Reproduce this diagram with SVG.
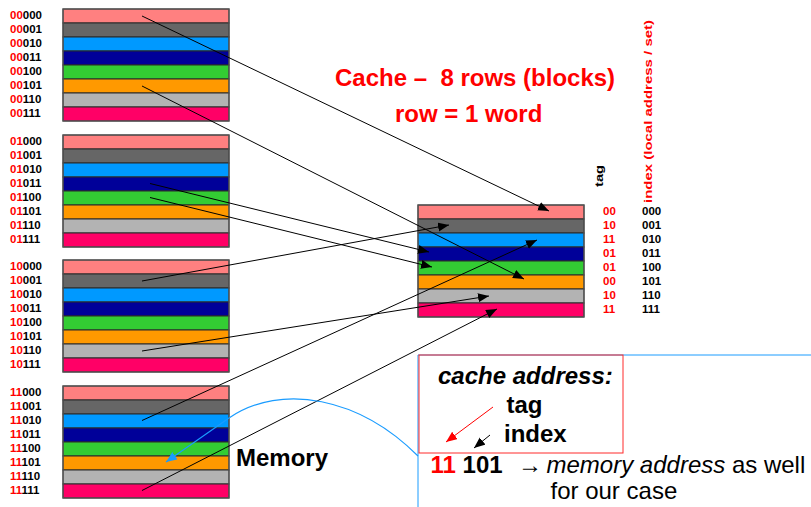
<svg xmlns="http://www.w3.org/2000/svg" width="811" height="507" viewBox="0 0 811 507">
  <style>
    .r0 { fill: #ff8080; }
    .r1 { fill: #666666; }
    .r2 { fill: #0099ff; }
    .r3 { fill: #000099; }
    .r4 { fill: #33cc33; }
    .r5 { fill: #ff9900; }
    .r6 { fill: #b3b3b3; }
    .r7 { fill: #ff0066; }
    .row { stroke: #2b2b2b; stroke-width: 1; }
    .frame { fill: none; stroke: #555555; stroke-width: 1.2; }
    .addr { font-family: "Liberation Sans", Arial, sans-serif; font-weight: bold; font-size: 11.5px; fill: #000000; }
    .hi { fill: #ff0000; }
    .big { font-family: "Liberation Sans", Arial, sans-serif; font-size: 24px; }
    .bold { font-weight: bold; }
    .red { fill: #ff0000; }
    .link { stroke: #000000; stroke-width: 1; fill: none; marker-end: url(#ah); }
  </style>
  <defs>
    <marker id="ah" markerUnits="userSpaceOnUse" markerWidth="12" markerHeight="10" refX="11" refY="4.5" orient="auto">
      <path d="M0,0 L11,4.5 L0,9 z" fill="#000000"/>
    </marker>
    <marker id="ahr" markerUnits="userSpaceOnUse" markerWidth="12" markerHeight="10" refX="11" refY="4.5" orient="auto">
      <path d="M0,0 L11,4.5 L0,9 z" fill="#ff0000"/>
    </marker>
    <marker id="ahb" markerUnits="userSpaceOnUse" markerWidth="12" markerHeight="10" refX="11" refY="4.5" orient="auto">
      <path d="M0,0 L11,4.5 L0,9 z" fill="#1a9cff"/>
    </marker>
    <!-- one block of eight rows, 166 x 112 -->
    <g id="rows">
      <rect class="row r0" x="0" y="0" width="166" height="14"/>
      <rect class="row r1" x="0" y="14" width="166" height="14"/>
      <rect class="row r2" x="0" y="28" width="166" height="14"/>
      <rect class="row r3" x="0" y="42" width="166" height="14"/>
      <rect class="row r4" x="0" y="56" width="166" height="14"/>
      <rect class="row r5" x="0" y="70" width="166" height="14"/>
      <rect class="row r6" x="0" y="84" width="166" height="14"/>
      <rect class="row r7" x="0" y="98" width="166" height="14"/>
      <rect class="frame" x="0" y="0" width="166" height="112"/>
    </g>
  </defs>

  <!-- memory blocks -->
  <g id="mem00">
    <use href="#rows" x="63" y="9"/>
    <text class="addr" x="10" y="18.5"><tspan class="hi">00</tspan>000</text>
    <text class="addr" x="10" y="32.5"><tspan class="hi">00</tspan>001</text>
    <text class="addr" x="10" y="46.5"><tspan class="hi">00</tspan>010</text>
    <text class="addr" x="10" y="60.5"><tspan class="hi">00</tspan>011</text>
    <text class="addr" x="10" y="74.5"><tspan class="hi">00</tspan>100</text>
    <text class="addr" x="10" y="88.5"><tspan class="hi">00</tspan>101</text>
    <text class="addr" x="10" y="102.5"><tspan class="hi">00</tspan>110</text>
    <text class="addr" x="10" y="116.5"><tspan class="hi">00</tspan>111</text>
  </g>
  <g id="mem01">
    <use href="#rows" x="63" y="135"/>
    <text class="addr" x="10" y="144.5"><tspan class="hi">01</tspan>000</text>
    <text class="addr" x="10" y="158.5"><tspan class="hi">01</tspan>001</text>
    <text class="addr" x="10" y="172.5"><tspan class="hi">01</tspan>010</text>
    <text class="addr" x="10" y="186.5"><tspan class="hi">01</tspan>011</text>
    <text class="addr" x="10" y="200.5"><tspan class="hi">01</tspan>100</text>
    <text class="addr" x="10" y="214.5"><tspan class="hi">01</tspan>101</text>
    <text class="addr" x="10" y="228.5"><tspan class="hi">01</tspan>110</text>
    <text class="addr" x="10" y="242.5"><tspan class="hi">01</tspan>111</text>
  </g>
  <g id="mem10">
    <use href="#rows" x="63" y="260"/>
    <text class="addr" x="10" y="269.5"><tspan class="hi">10</tspan>000</text>
    <text class="addr" x="10" y="283.5"><tspan class="hi">10</tspan>001</text>
    <text class="addr" x="10" y="297.5"><tspan class="hi">10</tspan>010</text>
    <text class="addr" x="10" y="311.5"><tspan class="hi">10</tspan>011</text>
    <text class="addr" x="10" y="325.5"><tspan class="hi">10</tspan>100</text>
    <text class="addr" x="10" y="339.5"><tspan class="hi">10</tspan>101</text>
    <text class="addr" x="10" y="353.5"><tspan class="hi">10</tspan>110</text>
    <text class="addr" x="10" y="367.5"><tspan class="hi">10</tspan>111</text>
  </g>
  <g id="mem11">
    <use href="#rows" x="63" y="386"/>
    <text class="addr" x="10" y="395.5"><tspan class="hi">11</tspan>000</text>
    <text class="addr" x="10" y="409.5"><tspan class="hi">11</tspan>001</text>
    <text class="addr" x="10" y="423.5"><tspan class="hi">11</tspan>010</text>
    <text class="addr" x="10" y="437.5"><tspan class="hi">11</tspan>011</text>
    <text class="addr" x="10" y="451.5"><tspan class="hi">11</tspan>100</text>
    <text class="addr" x="10" y="465.5"><tspan class="hi">11</tspan>101</text>
    <text class="addr" x="10" y="479.5"><tspan class="hi">11</tspan>110</text>
    <text class="addr" x="10" y="493.5"><tspan class="hi">11</tspan>111</text>
  </g>

  <!-- cache with tag / index columns -->
  <g id="cache">
    <use href="#rows" x="418" y="205"/>
    <text class="addr" transform="translate(603,187) rotate(-90)" font-size="15" textLength="22" lengthAdjust="spacingAndGlyphs">tag</text>
    <text class="addr hi" transform="translate(652,203) rotate(-90)" font-size="15" textLength="183" lengthAdjust="spacingAndGlyphs">index (local address / set)</text>
    <g class="addr hi">
      <text x="603" y="215">00</text>
      <text x="603" y="229">10</text>
      <text x="603" y="243">11</text>
      <text x="603" y="257">01</text>
      <text x="603" y="271">01</text>
      <text x="603" y="285">00</text>
      <text x="603" y="299">10</text>
      <text x="603" y="313">11</text>
    </g>
    <g class="addr">
      <text x="642" y="215">000</text>
      <text x="642" y="229">001</text>
      <text x="642" y="243">010</text>
      <text x="642" y="257">011</text>
      <text x="642" y="271">100</text>
      <text x="642" y="285">101</text>
      <text x="642" y="299">110</text>
      <text x="642" y="313">111</text>
    </g>
  </g>

  <!-- headings -->
  <g id="title">
    <text class="big bold red" x="335" y="86" xml:space="preserve">Cache –  8 rows (blocks)</text>
    <text class="big bold red" x="395" y="121.5">row = 1 word</text>
  </g>
  <g id="memory-label">
    <text class="big bold" x="236" y="466">Memory</text>
  </g>

  <!-- explanation panel -->
  <g id="panel">
    <path d="M811,355 L418,355 L418,507" fill="none" stroke="#1a9cff" stroke-width="1"/>
    <rect x="419" y="355" width="204" height="98" fill="none" stroke="#ff2a2a" stroke-width="1"/>
    <text class="big bold" x="438" y="384" font-style="italic">cache address:</text>
    <text class="big bold" x="506.5" y="413">tag</text>
    <text class="big bold" x="504" y="441.5">index</text>
    <line x1="493" y1="407" x2="446" y2="442" stroke="#ff0000" stroke-width="1" marker-end="url(#ahr)"/>
    <line x1="490" y1="435" x2="474" y2="448" stroke="#000000" stroke-width="1" marker-end="url(#ah)"/>
    <text class="big bold" x="430.5" y="472.5"><tspan class="red">11</tspan> 101</text>
    <text class="big" x="518" y="472.5" font-size="20">→</text>
    <text class="big" x="546.5" y="472.5"><tspan font-style="italic">memory address</tspan> as well</text>
    <text class="big" x="550.5" y="499">for our case</text>
  </g>

  <!-- connectors: memory rows to cache rows -->
  <g id="connectors">
    <line class="link" x1="142" y1="16" x2="549" y2="211"/>
    <line class="link" x1="142" y1="86" x2="524" y2="279"/>
    <line class="link" x1="150" y1="183.5" x2="429" y2="252"/>
    <line class="link" x1="150" y1="197.5" x2="432" y2="267"/>
    <line class="link" x1="142" y1="281" x2="449" y2="225"/>
    <line class="link" x1="142" y1="351" x2="489" y2="296"/>
    <line class="link" x1="142" y1="420.5" x2="537" y2="240"/>
    <line class="link" x1="142" y1="490.5" x2="497" y2="309"/>
    <path d="M418,456 C360,398 282,382 229,418 L166,462" fill="none" stroke="#1a9cff" stroke-width="1.2" marker-end="url(#ahb)"/>
  </g>
</svg>
